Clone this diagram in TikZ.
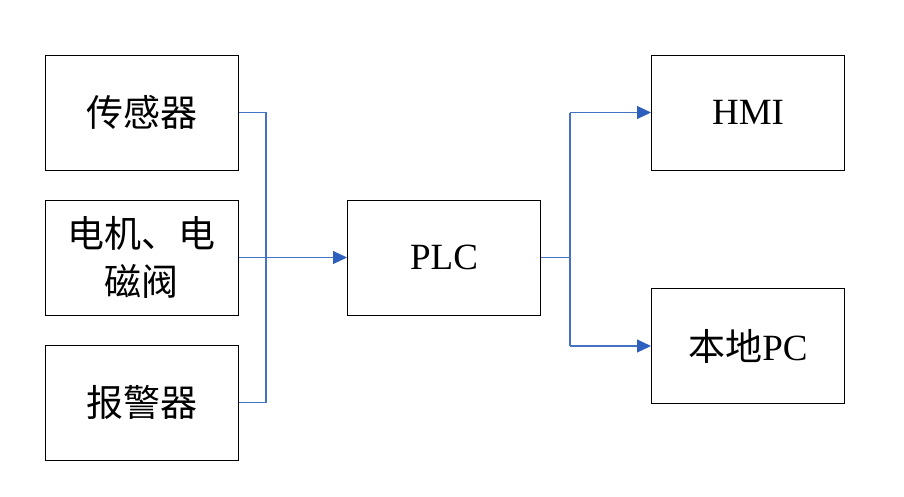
\documentclass[tikz,border=0pt]{standalone}
\usepackage{fontspec}
\setmainfont{Liberation Serif}
\newfontfamily\cjk{Noto Sans CJK SC}
\usetikzlibrary{arrows.meta}
\definecolor{lineblue}{HTML}{4472C4}
\definecolor{tipblue}{HTML}{2E5FBF}
\begin{document}
\begin{tikzpicture}[x=1pt,y=-1pt,
  blockbox/.style={draw=black,line width=1pt,minimum width=193pt,minimum height=115pt,inner sep=0pt,align=center,font=\fontsize{37}{48}\selectfont},
  wire/.style={draw=lineblue,line width=1.2pt},
  arr/.style={wire,-{Triangle[length=14pt,width=13pt,color=tipblue]}}]
\useasboundingbox (0,0) rectangle (904,496);
\node[blockbox] (s) at (141.5,112.5) {\cjk 传感器};
\node[blockbox] (m) at (141.5,257.5) {\cjk 电机、电\\\cjk 磁阀};
\node[blockbox] (a) at (141.5,402.5) {\cjk 报警器};
\node[blockbox] (p) at (444,257.5) {PLC};
\node[blockbox] (h) at (748,112.5) {HMI};
\node[blockbox] (l) at (748,346) {{\cjk 本地}PC};
\coordinate (j1) at (266,0);
\coordinate (j2) at (570,0);
\draw[wire] (s.east) -- (s.east -| j1) -- (a.east -| j1) -- (a.east);
\draw[arr] (m.east) -- (p.west);
\draw[wire] (p.east) -- (p.east -| j2);
\draw[arr] (h.west -| j2) -- (h.west);
\draw[arr] (l.west -| j2) -- (l.west);
\draw[wire] (h.west -| j2) -- (l.west -| j2);
\end{tikzpicture}
\end{document}
